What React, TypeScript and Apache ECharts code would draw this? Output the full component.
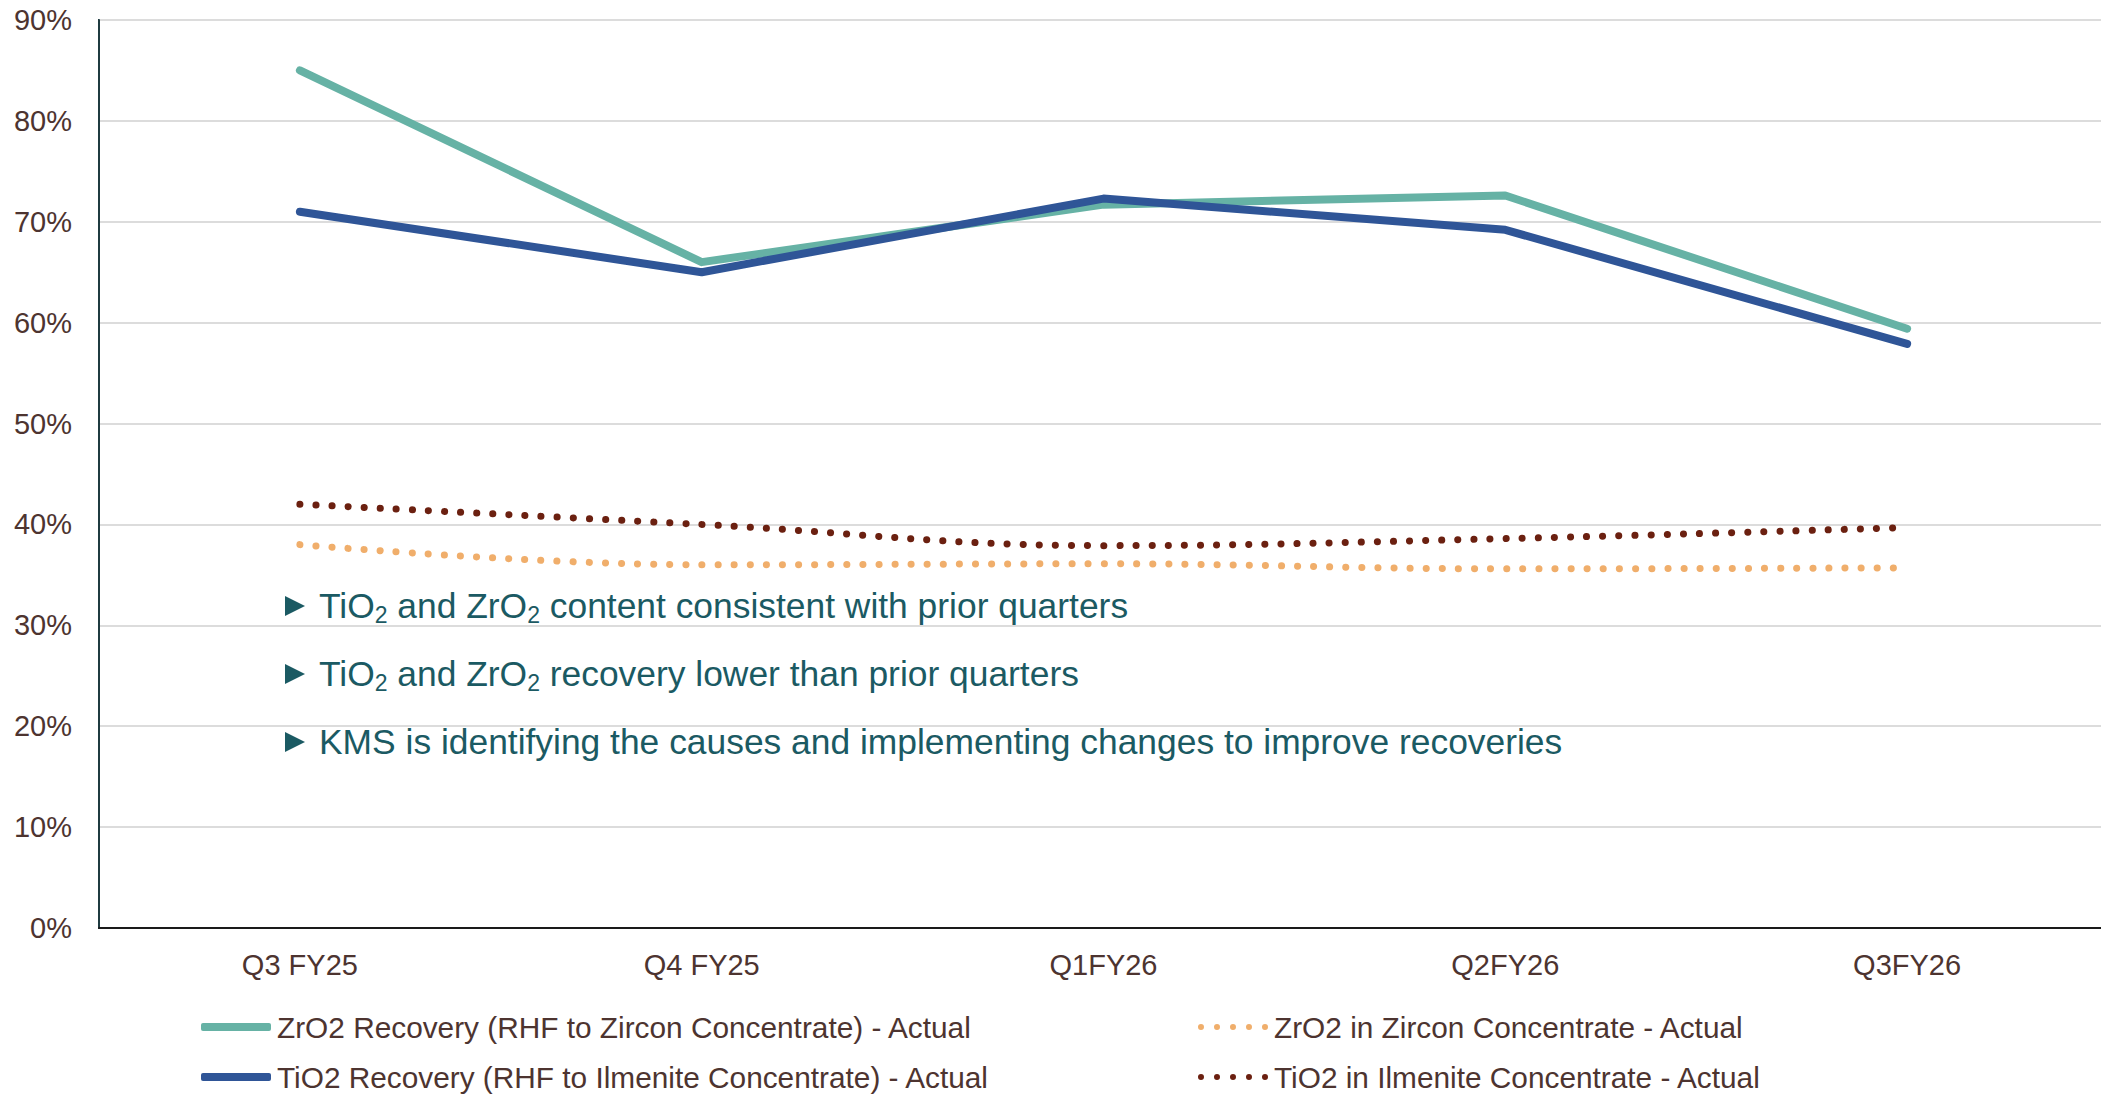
import React, { useEffect, useRef } from "react";
import * as echarts from "echarts";

const categories = ["Q3 FY25", "Q4 FY25", "Q1FY26", "Q2FY26", "Q3FY26"];
const zrRecovery = [85.0, 66.0, 71.7, 72.6, 59.4];
const tiRecovery = [71.0, 65.0, 72.3, 69.2, 57.9];
const zrContent = [38.0, 36.0, 36.1, 35.6, 35.7];
const tiContent = [42.0, 40.0, 37.9, 38.6, 39.7];
const yTicks = [0, 10, 20, 30, 40, 50, 60, 70, 80, 90];

const seriesNames = [
  "ZrO2 Recovery (RHF to Zircon Concentrate) - Actual",
  "TiO2 Recovery (RHF to Ilmenite Concentrate) - Actual",
  "ZrO2 in Zircon Concentrate - Actual",
  "TiO2 in Ilmenite Concentrate - Actual",
];

const notes = [
  [{ t: "TiO", s: "2" }, { t: " and ZrO", s: "2" }, { t: " content consistent with prior quarters" }],
  [{ t: "TiO", s: "2" }, { t: " and ZrO", s: "2" }, { t: " recovery lower than prior quarters" }],
  [{ t: "KMS is identifying the causes and implementing changes to improve recoveries" }],
];

const FONT = "'Liberation Sans', Arial, sans-serif";
const LABEL = "#4d3430";
const NOTE = "#1b5a63";
const DOTS_ICON =
  "path://M0,3a3,3 0 1,0 6,0a3,3 0 1,0 -6,0M16,3a3,3 0 1,0 6,0a3,3 0 1,0 -6,0M32,3a3,3 0 1,0 6,0a3,3 0 1,0 -6,0M48,3a3,3 0 1,0 6,0a3,3 0 1,0 -6,0M64,3a3,3 0 1,0 6,0a3,3 0 1,0 -6,0";

export default function App() {
  const ref = useRef<HTMLDivElement>(null);
  useEffect(() => {
    document.body.style.margin = "0";
    document.body.style.overflow = "hidden";
    const chart = echarts.init(ref.current!, null, { renderer: "svg" });
    const noteGraphics: any[] = [];
    notes.forEach((parts, i) => {
      const y = 606 + i * 68;
      noteGraphics.push({
        type: "polygon",
        shape: { points: [[285, y - 10], [305, y], [285, y + 10]] },
        style: { fill: NOTE },
      });
      let str = "";
      parts.forEach((p: any) => {
        str += "{m|" + p.t + "}";
        if (p.s) str += "{s|" + p.s + "}";
      });
      noteGraphics.push({
        type: "text",
        x: 319,
        y: y,
        style: {
          text: str,
          verticalAlign: "middle",
          rich: {
            m: { fontSize: 35.4, fontFamily: FONT, fill: NOTE, lineHeight: 44, height: 44 },
            s: { fontSize: 23, fontFamily: FONT, fill: NOTE, lineHeight: 24, height: 44, padding: [18, 0, 0, 0] },
          },
        },
      });
    });
    const lineBase = { type: "line", symbol: "none", showSymbol: false };
    const legendPos = [
      [201, 1012],
      [201, 1062],
      [1198, 1012],
      [1198, 1062],
    ];
    const legends = seriesNames.map((n, i) => ({
      data: [n],
      left: legendPos[i][0],
      top: legendPos[i][1],
      icon: i < 2 ? "roundRect" : DOTS_ICON,
      itemWidth: 70,
      itemHeight: i < 2 ? 8 : 6,
      itemGap: 0,
      padding: 0,
      textStyle: { fontSize: 29.8, fontFamily: FONT, color: LABEL, lineHeight: 30, padding: [0, 0, 0, 1] },
    }));
    chart.setOption({
      animation: false,
      grid: { left: 99, top: 20, width: 2009, height: 908, show: true, borderColor: "#1f3b40", borderWidth: 2 },
      legend: legends,
      xAxis: {
        type: "category",
        data: categories,
        boundaryGap: true,
        axisLine: { lineStyle: { color: "#1a1a1a", width: 2 } },
        axisTick: { show: false },
        axisLabel: { fontSize: 29, fontFamily: FONT, color: LABEL, margin: 22 },
      },
      yAxis: {
        type: "value",
        min: yTicks[0],
        max: yTicks[yTicks.length - 1],
        interval: 10,
        axisLine: { show: true, lineStyle: { color: "#1f3b40", width: 2 } },
        axisTick: { show: false },
        axisLabel: { fontSize: 29, fontFamily: FONT, color: LABEL, margin: 27, formatter: "{value}%" },
        splitLine: { lineStyle: { color: "#dcdcdc", width: 2 } },
      },
      series: [
        { ...lineBase, name: seriesNames[0], data: zrRecovery, z: 4, lineStyle: { color: "#66b2a5", width: 8, cap: "round", join: "round" }, itemStyle: { color: "#66b2a5" } },
        { ...lineBase, name: seriesNames[1], data: tiRecovery, z: 5, lineStyle: { color: "#2f5597", width: 8, cap: "round", join: "round" }, itemStyle: { color: "#2f5597" } },
        { ...lineBase, name: seriesNames[2], data: zrContent, smooth: 0.4, lineStyle: { color: "#f0ae6b", width: 7, type: [0.1, 16], cap: "round" }, itemStyle: { color: "#f0ae6b" } },
        { ...lineBase, name: seriesNames[3], data: tiContent, smooth: 0.4, lineStyle: { color: "#6b2010", width: 7, type: [0.1, 16], cap: "round" }, itemStyle: { color: "#6b2010" } },
      ],
      graphic: noteGraphics,
    });
    return () => chart.dispose();
  }, []);
  return <div ref={ref} style={{ width: 2120, height: 1096 }} />;
}
